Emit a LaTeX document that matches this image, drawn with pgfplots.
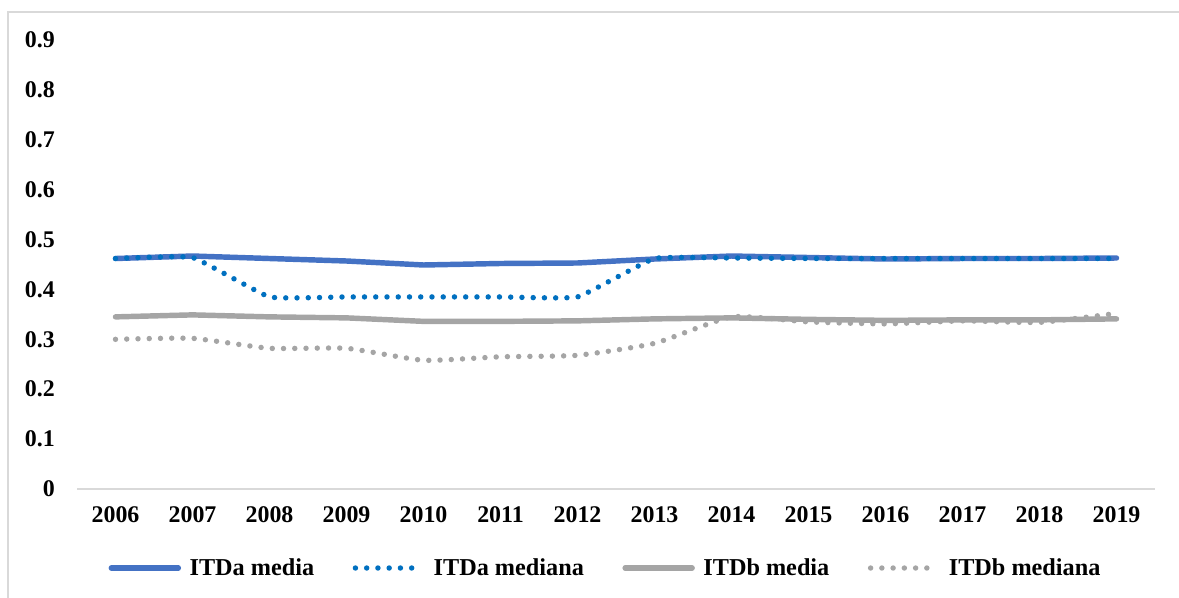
\documentclass[border=0pt]{standalone}
\usepackage{pgfplots}
\pgfplotsset{compat=1.18}
\usepackage{fontspec}
\setmainfont{Liberation Serif}
\definecolor{itdamedia}{HTML}{4472C4}
\definecolor{itdamediana}{HTML}{0070C0}
\definecolor{itdb}{HTML}{A5A5A5}
\definecolor{frame}{HTML}{D9D9D9}

\begin{document}
\begin{tikzpicture}
\useasboundingbox (0,0) rectangle (23.58cm,11.96cm);
% chart frame (only left and top edges are visible)
\draw[frame, line width=0.6pt] (0.16cm,0) -- (0.16cm,11.72cm) -- (23.58cm,11.72cm);

\begin{axis}[
    at={(1.54cm,2.18cm)}, anchor=south west,
    scale only axis,
    width=21.56cm, height=8.98cm,
    xmin=-0.5, xmax=13.5,
    ymin=0, ymax=0.9,
    xtick={0,...,13},
    xticklabels={2006,2007,2008,2009,2010,2011,2012,2013,2014,2015,2016,2017,2018,2019},
    ytick={0,0.1,...,0.9},
    yticklabels={0,0.1,0.2,0.3,0.4,0.5,0.6,0.7,0.8,0.9},
    axis x line*=bottom, axis y line*=left,
    x axis line style={draw=frame, line width=0.8pt, -},
    y axis line style={draw=none},
    major tick length=0pt,
    tick label style={font=\fontsize{13.6}{16}\selectfont\bfseries},
    /pgf/number format/assume math mode=true,
    xticklabel style={yshift=-0.22cm},
    yticklabel style={xshift=-0.32cm},
    clip=false,
    legend columns=4,
    legend style={draw=none, at={(0.491,-0.176)}, anchor=center,
        font=\fontsize{13.8}{16}\selectfont\bfseries,
        /tikz/every even column/.append style={column sep=0.7cm}},
    legend image code/.code={\draw[#1] (0cm,0cm) -- (1.34cm,0cm); \path (1.44cm,0cm);},
]

% ITDa media
\addplot[itdamedia, line width=3.1pt, line cap=round] coordinates {
    (0,0.462) (1,0.467) (2,0.462) (3,0.457) (4,0.449) (5,0.452) (6,0.453)
    (7,0.461) (8,0.467) (9,0.464) (10,0.461) (11,0.462) (12,0.462) (13,0.463)
};
\addlegendentry{ITDa media}

% ITDa mediana
\addplot[itdamediana, line width=3.1pt, line cap=round, smooth, tension=0.2,
    dash pattern=on 0pt off 6.4pt] coordinates {
    (0,0.462) (1,0.464) (2,0.385) (3,0.385) (4,0.385) (5,0.385) (6,0.385)
    (7,0.462) (8,0.463) (9,0.462) (10,0.462) (11,0.462) (12,0.462) (13,0.462)
};
\addlegendentry{ITDa mediana}

% ITDb media
\addplot[itdb, line width=3.1pt, line cap=round] coordinates {
    (0,0.345) (1,0.349) (2,0.345) (3,0.343) (4,0.336) (5,0.336) (6,0.337)
    (7,0.341) (8,0.343) (9,0.340) (10,0.338) (11,0.339) (12,0.339) (13,0.341)
};
\addlegendentry{ITDb media}

% ITDb mediana
\addplot[itdb, line width=3.1pt, line cap=round, smooth, tension=0.3,
    dash pattern=on 0pt off 6.4pt] coordinates {
    (0,0.300) (1,0.302) (2,0.282) (3,0.282) (4,0.258) (5,0.265) (6,0.268)
    (7,0.292) (8,0.345) (9,0.335) (10,0.331) (11,0.337) (12,0.334) (13,0.352)
};
\addlegendentry{ITDb mediana}

\end{axis}
\end{tikzpicture}
\end{document}
